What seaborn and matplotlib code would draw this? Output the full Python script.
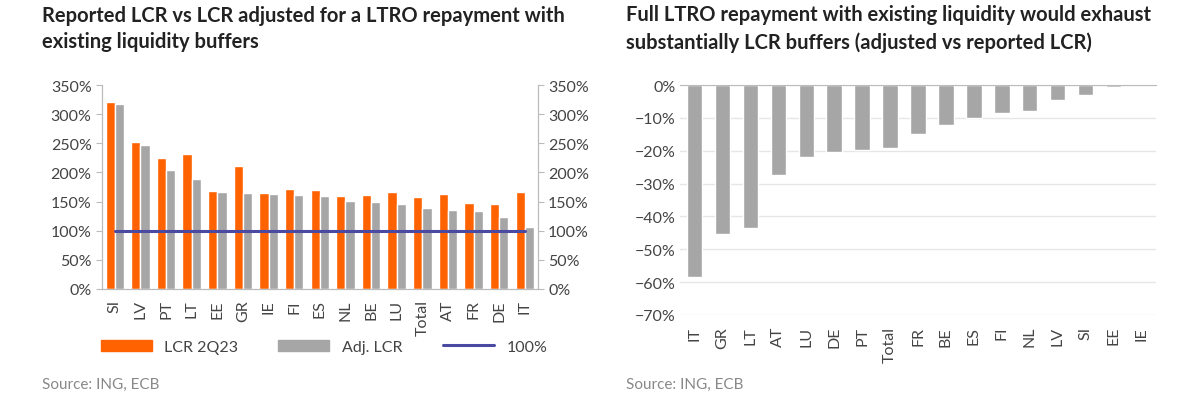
import pandas as pd
import matplotlib.pyplot as plt
import matplotlib.ticker as mtick
import seaborn as sns

sns.set_style("white")
plt.rcParams['font.family'] = ['Lato', 'DejaVu Sans']

# left chart data
countries_l = ['SI', 'LV', 'PT', 'LT', 'EE', 'GR', 'IE', 'FI', 'ES', 'NL', 'BE', 'LU', 'Total', 'AT', 'FR', 'DE', 'IT']
lcr_2q23 = [321, 252, 224, 232, 168, 211, 164, 171, 169, 159, 161, 167, 157, 163, 148, 145, 166]
adj_lcr = [318, 247, 204, 188, 167, 165, 163, 162, 159, 151, 149, 145, 139, 136, 133, 124, 107]

# right chart data
countries_r = ['IT', 'GR', 'LT', 'AT', 'LU', 'DE', 'PT', 'Total', 'FR', 'BE', 'ES', 'FI', 'NL', 'LV', 'SI', 'EE', 'IE']
diff = [-58.5, -45.5, -43.5, -27.5, -22.0, -20.3, -19.7, -19.2, -15.0, -12.0, -10.0, -8.6, -7.9, -4.4, -2.9, -0.7, 0.0]

orange = '#FF6200'
grey = '#A6A6A6'
txt = '#444444'

df = pd.DataFrame({'country': countries_l * 2,
                   'value': lcr_2q23 + adj_lcr,
                   'series': ['LCR 2Q23'] * len(countries_l) + ['Adj. LCR'] * len(countries_l)})

fig = plt.figure(figsize=(12, 4.14), dpi=100)
ax1 = fig.add_axes([0.085, 0.30, 0.363, 0.492])
ax2 = fig.add_axes([0.567, 0.237, 0.396, 0.555])

sns.barplot(data=df, x='country', y='value', hue='series', palette=[orange, grey],
            width=0.72, saturation=1, ax=ax1, legend=False)
ax1.plot([0, len(countries_l) - 1], [100, 100], color='#4B4AA3', lw=2.2)
ax1.set_ylim(0, 350)
ax1.set_xlim(-0.5, len(countries_l) - 0.5)
ax1.yaxis.set_major_formatter(mtick.PercentFormatter(decimals=0))
ax1.set_xlabel('')
ax1.set_ylabel('')
ax1r = ax1.twinx()
ax1r.set_ylim(0, 350)
ax1r.yaxis.set_major_formatter(mtick.PercentFormatter(decimals=0))
for a in (ax1, ax1r):
    for s in ['top']:
        a.spines[s].set_visible(False)
    for s in ['left', 'right', 'bottom']:
        a.spines[s].set_color('#BBBBBB')
    a.tick_params(colors=txt, labelsize=11.5, length=4, color='#BBBBBB')
ax1.tick_params(axis='x', rotation=90, direction='out')
ax1.set_yticks(range(0, 351, 50))
ax1r.set_yticks(range(0, 351, 50))

from matplotlib.patches import Patch
from matplotlib.lines import Line2D
handles = [Patch(color=orange, label='LCR 2Q23'), Patch(color=grey, label='Adj. LCR'),
           Line2D([], [], color='#4B4AA3', lw=2.2, label='100%')]
fig.legend(handles=handles, loc='center', bbox_to_anchor=(0.27, 0.16), ncol=3, frameon=False,
           fontsize=11.5, labelcolor=txt, handlelength=3.2, handleheight=0.7, columnspacing=2.5)

sns.barplot(x=countries_r, y=diff, color=grey, saturation=1, width=0.55, ax=ax2)
ax2.set_ylim(-70, 0)
ax2.set_xlim(-0.5, len(countries_r) - 0.5)
ax2.set_yticks(range(-70, 1, 10))
ax2.yaxis.set_major_formatter(mtick.PercentFormatter(decimals=0))
ax2.yaxis.grid(True, color='#E6E6E6', lw=1)
ax2.set_axisbelow(True)
for s in ['left', 'right', 'bottom']:
    ax2.spines[s].set_visible(False)
ax2.spines['top'].set_color('#BBBBBB')
ax2.tick_params(colors=txt, labelsize=11.5, length=0)
ax2.tick_params(axis='x', rotation=90, pad=8)

fig.text(0.035, 0.93, 'Reported LCR vs LCR adjusted for a LTRO repayment with\nexisting liquidity buffers',
         fontsize=14.5, fontweight='bold', color='#222222', va='center', linespacing=1.4)
fig.text(0.522, 0.93, 'Full LTRO repayment with existing liquidity would exhaust\nsubstantially LCR buffers (adjusted vs reported LCR)',
         fontsize=14.5, fontweight='bold', color='#222222', va='center', linespacing=1.4)
fig.text(0.035, 0.06, 'Source: ING, ECB', fontsize=11, color='#888888')
fig.text(0.522, 0.06, 'Source: ING, ECB', fontsize=11, color='#888888')

fig.savefig('out.png', dpi=100)
